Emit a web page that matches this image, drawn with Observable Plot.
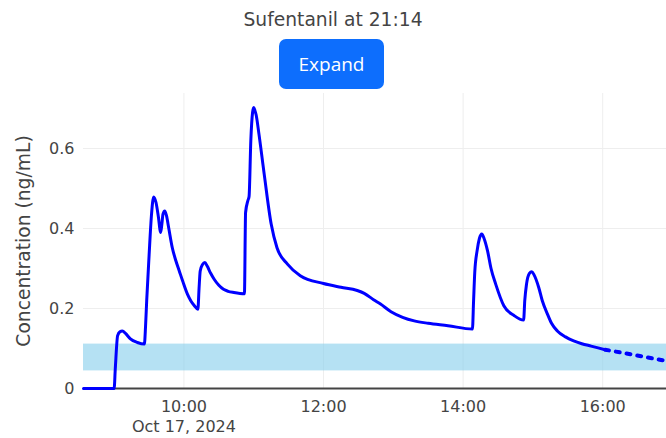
<!DOCTYPE html>
<html>
<head>
<meta charset="utf-8">
<script src="https://cdn.jsdelivr.net/npm/d3@7"></script>
<script src="https://cdn.jsdelivr.net/npm/@observablehq/plot@0.6"></script>
<style>
  html, body { margin: 0; padding: 0; background: #fff; }
  #wrap { width: 666px; }
  #header { position: relative; width: 666px; height: 90px; }
  #title { position: absolute; left: 0; top: 9px; width: 666px; text-align: center;
           font-family: "DejaVu Sans", Verdana, sans-serif; font-size: 18.7px; line-height: 22px; color: #444; }
  #btn { position: absolute; left: 279px; top: 39px; width: 105px; height: 50px; border-radius: 7px;
         background: #0d6efd; color: #fff; display: flex; align-items: center; justify-content: center;
         font-family: "Open Sans", "Noto Sans", sans-serif; font-size: 19px; }
  svg { display: block; }
</style>
</head>
<body>
<div id="wrap">
  <div id="header">
    <div id="title">Sufentanil at 21:14</div>
    <div id="btn">Expand</div>
  </div>
  <div id="chart"></div>
</div>
<script>
const day = "2024-10-17";
const titleText = "Sufentanil at 21:14";
const yLabel = "Concentration (ng/mL)";
const dateLabel = "Oct 17, 2024";

// Solid (observed/computed) concentration curve
const solidTimes = [
  "08:33:40","09:00","09:01","09:03","09:05","09:07","09:10","09:14","09:20","09:26",
  "09:27","09:28","09:30","09:32","09:34","09:36","09:38","09:40","09:41","09:42",
  "09:43:30","09:45","09:47","09:50","09:53","09:56","09:59","10:03","10:06","10:09","10:12",
  "10:13","10:14","10:16","10:18","10:20","10:23","10:26","10:30","10:34","10:38","10:43","10:52",
  "10:53","10:55","10:56","10:57:30","10:59","11:00","11:01","11:02","11:04:30","11:09","11:15",
  "11:20","11:29","11:40","12:00","12:15","12:29","12:35","12:43","12:49","12:58","13:08",
  "13:18","13:30","13:47","14:08",
  "14:09","14:10","14:12","14:14","14:16","14:18","14:21","14:24","14:28","14:35","14:44","14:52",
  "14:53","14:54:30","14:57","14:59","15:01","15:05","15:08","15:12:30","15:16","15:21","15:28",
  "15:35","15:42","15:50","16:02"
];
const solidValues = [
  0,0,0.05,0.132,0.142,0.144,0.137,0.124,0.115,0.111,
  0.155,0.22,0.33,0.43,0.479,0.465,0.43,0.39,0.41,0.436,
  0.444,0.432,0.40,0.352,0.32,0.294,0.268,0.236,0.219,0.207,0.198,
  0.25,0.294,0.31,0.315,0.306,0.288,0.273,0.258,0.248,0.243,0.240,0.237,
  0.44,0.47,0.48,0.62,0.69,0.7025,0.695,0.685,0.636,0.536,0.411,
  0.352,0.311,0.282,0.2625,0.253,0.245,0.238,0.222,0.211,0.192,0.178,
  0.169,0.163,0.157,0.1485,
  0.22,0.29,0.344,0.375,0.386,0.375,0.344,0.30,0.261,0.207,0.182,0.171,
  0.22,0.261,0.288,0.292,0.284,0.2525,0.22,0.186,0.163,0.144,0.129,
  0.119,0.112,0.106,0.097
];

// Dotted (predicted) continuation
const predTimes = ["16:02","16:25","16:49","16:54:50"];
const predValues = [0.097,0.085,0.072,0.069];

// Therapeutic band
const bandLow = [0.044];
const bandHigh = [0.111];

const xDomain = ["08:33:40","16:54:50"];
const xTicks = ["10:00","12:00","14:00","16:00"];
const yTicks = [0, 0.2, 0.4, 0.6];
const yTickLabels = ["0", "0.2", "0.4", "0.6"];
const yMax = 0.7375;

const toDate = t => new Date(`${day}T${t.length === 5 ? t + ":00" : t}`);
const solid = solidTimes.map((t, i) => ({t: toDate(t), v: solidValues[i]}));
const pred = predTimes.map((t, i) => ({t: toDate(t), v: predValues[i]}));
const band = bandLow.map((lo, i) => ({lo, hi: bandHigh[i]}));
const tickDates = xTicks.map(toDate);
const fmt = d3.timeFormat("%H:%M");

const chart = Plot.plot({
  width: 666,
  height: 348,
  marginTop: 3,
  marginBottom: 50,
  marginLeft: 83,
  marginRight: 0,
  style: {fontFamily: "'DejaVu Sans', Verdana, sans-serif", fontSize: "16px", color: "#444", background: "#fff"},
  x: {type: "time", domain: xDomain.map(toDate)},
  y: {domain: [0, yMax]},
  marks: [
    Plot.gridX(tickDates, {stroke: "#eee", strokeOpacity: 1, strokeWidth: 1}),
    Plot.gridY(yTicks.slice(1), {stroke: "#eee", strokeOpacity: 1, strokeWidth: 1}),
    Plot.rect(band, {y1: "lo", y2: "hi", fill: "#87ceeb", fillOpacity: 0.62}),
    Plot.ruleY([0], {stroke: "#444", strokeWidth: 2}),
    Plot.line(solid, {x: "t", y: "v", stroke: "#0000ff", strokeWidth: 3, curve: "monotone-x"}),
    Plot.line(pred, {x: "t", y: "v", stroke: "#0000ff", strokeWidth: 4, strokeDasharray: "4,6.9", curve: "monotone-x"}),
    Plot.axisY({ticks: yTicks, tickSize: 0, tickPadding: 9, label: null, fontSize: 16,
      tickFormat: (d, i) => yTickLabels[yTicks.indexOf(d)]}),
    Plot.axisX({ticks: tickDates, tickSize: 0, tickPadding: 9, label: null, fontSize: 16, lineHeight: 1.25,
      tickFormat: (d, i) => i === 0 ? fmt(d) + "\n" + dateLabel : fmt(d)}),
    Plot.text([yLabel], {text: d => d, frameAnchor: "left", textAnchor: "middle", rotate: -90, dx: -59, fontSize: 18.7, fill: "#444"})
  ]
});
document.getElementById("chart").appendChild(chart);
</script>
</body>
</html>
